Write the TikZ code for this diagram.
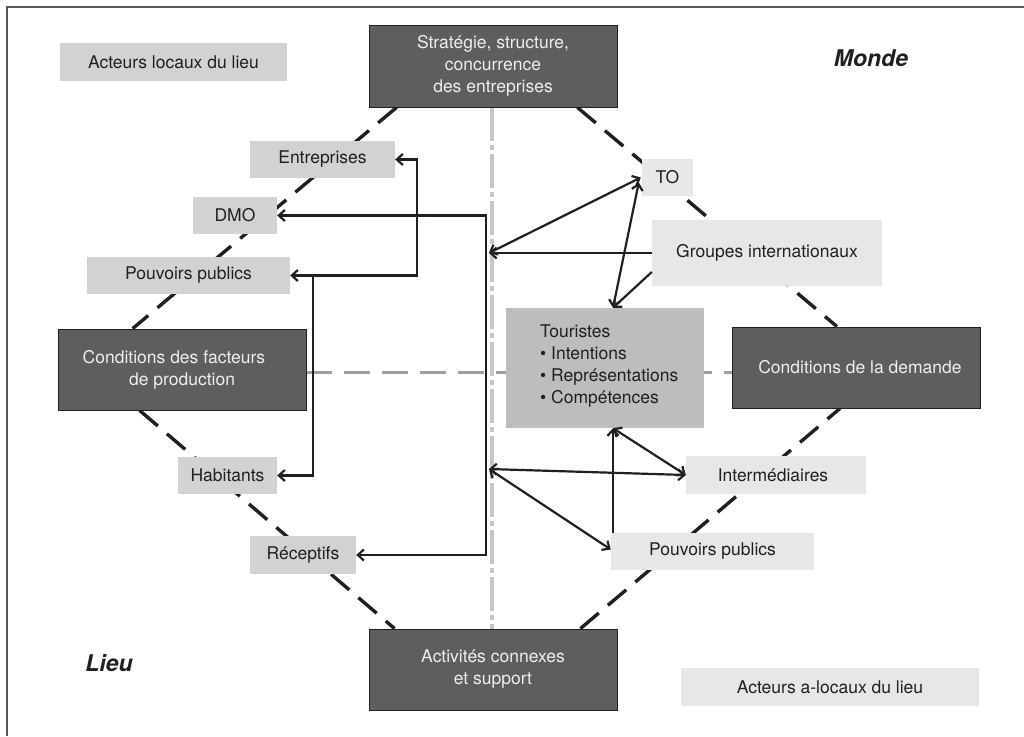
\documentclass[tikz,border=0pt]{standalone}
\usepackage{fontspec}
\setmainfont{TeX Gyre Heros}
\usetikzlibrary{arrows.meta,backgrounds,calc}
\definecolor{darkbox}{HTML}{5E5E60}
\definecolor{lightbox}{HTML}{D1D2D4}
\definecolor{palebox}{HTML}{E6E7E8}
\definecolor{midbox}{HTML}{BCBDBF}
\definecolor{ink}{HTML}{231F20}
\definecolor{whitetxt}{HTML}{EEEEEE}
\definecolor{vgrey}{HTML}{C4C5C7}
\definecolor{hgrey}{HTML}{A0A0A2}
\definecolor{framegrey}{HTML}{555555}
\begin{document}
\begin{tikzpicture}[x=1pt,y=-1pt,
  base/.style={font=\fontsize{17.5}{22}\selectfont, inner sep=0pt, align=center},
  sz/.style 2 args={minimum width=#1, minimum height=#2},
  darkbx/.style={base, fill=darkbox, draw=ink, line width=0.8pt, text=whitetxt},
  lightbx/.style={base, fill=lightbox, text=ink},
  palebx/.style={base, fill=palebox, text=ink},
  midbx/.style={base, fill=midbox},
  bigital/.style={font=\fontsize{23}{26}\selectfont\bfseries\itshape, text=ink, inner sep=0pt},
  diag/.style={draw=ink, line width=3.4pt, dash pattern=on 24pt off 12pt},
  vaxis/.style={draw=vgrey, line width=4.5pt, dash pattern=on 34pt off 4pt on 5pt off 4pt},
  haxis/.style={draw=hgrey, line width=3pt, dash pattern=on 26pt off 12pt},
  arr/.style={draw=ink, line width=2.2pt, -{Straight Barb[length=6pt,width=11pt]}},
  arrtwo/.style={draw=ink, line width=2.2pt, {Straight Barb[length=6pt,width=11pt]}-{Straight Barb[length=6pt,width=11pt]}}
]
\useasboundingbox (0,0) rectangle (1024,736);
% frame
\draw[framegrey, line width=1.5pt] (7,736) -- (7,7) -- (1024,7);

% main boxes
\node[darkbx, sz={248}{82}] (strat) at (493,66) {Stratégie, structure,\\concurrence\\des entreprises};
\node[darkbx, sz={248}{81}] (cdf) at (182,369.5) {\hspace*{-16pt}Conditions des facteurs\\de production};
\node[darkbx, sz={248}{81}] (cdd) at (856,367.5) {\hspace*{8pt}Conditions de la demande};
\node[darkbx, sz={248}{81}] (act) at (493,669.5) {Activités connexes\\et support};

% labels
\node[lightbx, sz={227}{38}] (acteurs) at (173.5,62) {Acteurs locaux du lieu};
\node[bigital] (monde) at (871,58) {Monde};
\node[bigital] (lieu) at (109,663) {Lieu};
\node[palebx, sz={298}{38}] (alocal) at (830,687) {Acteurs a-locaux du lieu};

% left actors
\node[lightbx, sz={145}{37}] (entr) at (322.5,159.5) {Entreprises};
\node[lightbx, sz={84}{37}] (dmo) at (235,215.5) {DMO};
\node[lightbx, sz={203}{37}] (ppl) at (188.5,275.5) {Pouvoirs publics};
\node[lightbx, sz={99}{37}] (hab) at (227.5,475.5) {Habitants};
\node[lightbx, sz={106}{38}] (rec) at (303,555) {Réceptifs};

% right actors
\node[palebx, sz={51}{37}] (to) at (667.5,177.5) {TO};
\node[palebx, sz={230}{66}] (grp) at (767,253) {Groupes internationaux};
\node[palebx, sz={180}{38}] (inter) at (776,475) {\hspace*{-6pt}Intermédiaires};
\node[palebx, sz={203}{37}] (ppr) at (712.5,551.5) {Pouvoirs publics};

% tourists
\node[midbx, sz={198}{120}] (tour) at (605,368) {};
\node[base, anchor=west, align=left, text=ink] (tourtxt) at (540,366) {Touristes\\• Intentions\\• Représentations\\• Compétences};

% background lines
\begin{pgfonlayer}{background}
\fill[white] (0,0) rectangle (1024,736);
\draw[diag] ([shift={(28,0)}]strat.south west) -- ([shift={(75,0)}]cdf.north west);
\draw[diag] ([shift={(-40,0)}]strat.south east) -- ([shift={(-19,0)}]cdd.north);
\draw[diag] ([shift={(82,0)}]cdf.south west) -- ([shift={(26,0)}]act.north west);
\draw[diag] ([shift={(-37,0)}]act.north east) -- ([shift={(-16,0)}]cdd.south);
\draw[vaxis] ([shift={(-1,0)}]strat.south) -- ([shift={(-1,0)}]act.north);
\draw[haxis] ([shift={(0,2.5)}]cdf.east) -- ([shift={(0,2.5)}]cdf.east -| cdd.west);
\end{pgfonlayer}

% junction coordinates
\coordinate (c1) at (417,159.5);
\coordinate (c2) at (313,275.5);
\coordinate (c3) at (486,215.5);
\coordinate (gh) at (489,253);
\coordinate (gl) at (489,469);
\coordinate (tt) at ([shift={(8,0)}]tour.north);
\coordinate (tb) at ([shift={(8,0)}]tour.south);

% left arrows
\draw[arrtwo] (ppl.east) -| (c1) -- (entr.east);
\draw[arr] (c2) |- (hab.east);
\draw[arrtwo] (dmo.east) -- (c3) |- (rec.east);

% upper right arrows
\draw[arr] (grp.west) -- (gh);
\draw[arrtwo] (gh) -- ([shift={(-1,0)}]to.west);
\draw[arrtwo] ([shift={(-3,5)}]to.west) -- (tt);
\draw[arr] ([shift={(0,19)}]grp.west) -- (tt);

% lower right arrows
\draw[arrtwo] (gl) -- (inter.west);
\draw[arrtwo] (gl) -- ([shift={(0,-2)}]ppr.west);
\draw[arrtwo] (tb) -- (inter.west);
\draw[arr] (tb |- ppr.north) -- (tb);
\end{tikzpicture}
\end{document}
